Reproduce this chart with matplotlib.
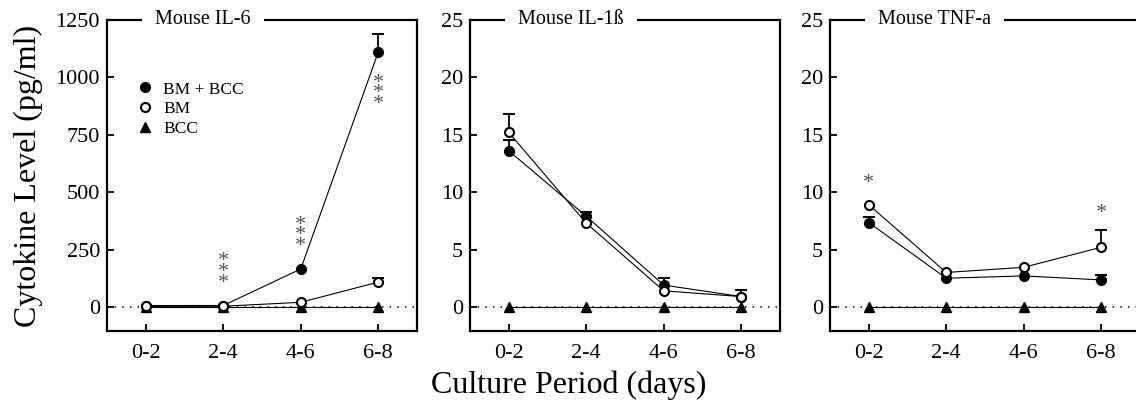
import matplotlib.pyplot as plt
from matplotlib.lines import Line2D

plt.rcParams['font.family'] = ['Liberation Serif', 'DejaVu Serif']

periods = ['0-2', '2-4', '4-6', '6-8']
series = ['BM + BCC', 'BM', 'BCC']

# Mouse IL-6
il6_bmbcc = [6, 6, 165, 1110]
il6_bmbcc_err = [0, 0, 0, 80]
il6_bm = [2, 3, 20, 108]
il6_bm_err = [0, 0, 0, 20]
il6_bcc = [0, 0, 0, 0]
il6_stars = [(1, 150, 3), (2, 310, 3), (3, 928, 3)]  # (period, centre, count)

# Mouse IL-1b
il1_bmbcc = [13.6, 7.9, 1.9, 0.9]
il1_bmbcc_err = [0.9, 0.4, 0.6, 0.6]
il1_bm = [15.2, 7.3, 1.4, 0.9]
il1_bm_err = [1.6, 0, 0, 0]
il1_bcc = [0, 0, 0, 0]
il1_stars = []

# Mouse TNF-a
tnf_bmbcc = [7.35, 2.5, 2.7, 2.35]
tnf_bmbcc_err = [0.5, 0, 0, 0.4]
tnf_bm = [8.9, 3.0, 3.45, 5.2]
tnf_bm_err = [0, 0, 0, 1.5]
tnf_bcc = [0, 0, 0, 0]
tnf_stars = [(0, 10.75, 1), (3, 8.1, 1)]

panels = [
    ('Mouse IL-6', il6_bmbcc, il6_bmbcc_err, il6_bm, il6_bm_err, il6_bcc, il6_stars,
     (-105, 1250), [0, 250, 500, 750, 1000, 1250]),
    ('Mouse IL-1ß', il1_bmbcc, il1_bmbcc_err, il1_bm, il1_bm_err, il1_bcc, il1_stars,
     (-2.1, 25), [0, 5, 10, 15, 20, 25]),
    ('Mouse TNF-a', tnf_bmbcc, tnf_bmbcc_err, tnf_bm, tnf_bm_err, tnf_bcc, tnf_stars,
     (-2.1, 25), [0, 5, 10, 15, 20, 25]),
]

W, H = 1136, 408
fig = plt.figure(figsize=(W / 100, H / 100), dpi=100)
lefts = [107, 470, 830]
x = list(range(len(periods)))


def upper_bars(ax, xs, ys, errs):
    # upward-only error bars with a single cap
    for xi, yi, e in zip(xs, ys, errs):
        if e > 0:
            ax.plot([xi, xi], [yi, yi + e], color='black', lw=1.3, zorder=3.5)
            ax.plot([xi], [yi + e], marker='_', ms=8, mew=1.4, color='black', zorder=3.5)


for left, (title, bb, bbe, bm, bme, bcc, stars, ylim, yticks) in zip(lefts, panels):
    ax = fig.add_axes([left / W, 1 - 331 / H, 310 / W, 311 / H])
    ax.set_xlim(-0.5, 3.5)
    ax.set_ylim(*ylim)

    # zero reference line
    ax.axhline(0, color='black', lw=1.1, ls=(0, (1, 4)), zorder=1)

    ax.plot(x, bcc, color='black', lw=0.8, marker='^', ms=6.5, mfc='black', mec='black', zorder=3)
    upper_bars(ax, x, bb, bbe)
    upper_bars(ax, x, bm, bme)
    ax.plot(x, bb, color='black', lw=0.8, marker='o', ms=7, mfc='black', mec='black', zorder=4)
    ax.plot(x, bm, color='black', lw=0.8, marker='o', ms=6.5, mfc='white', mec='black',
            mew=1.5, zorder=5)

    for xi, yc, n in stars:
        ax.text(xi, yc, '\n'.join(['*'] * n), ha='center', va='center', fontsize=16,
                linespacing=0.4, color='#555555')

    ax.set_xticks(x)
    ax.set_xticklabels(periods)
    ax.set_yticks(yticks)
    ax.tick_params(direction='in', length=5, width=1.3, labelsize=16)
    ax.tick_params(axis='x', pad=9)
    ax.tick_params(axis='y', pad=5)
    for s in ['left', 'bottom', 'right']:
        ax.spines[s].set_linewidth(1.6)
    ax.spines['top'].set_visible(False)

    # top frame line broken by the panel title
    ax.plot([0, 1], [1, 1], color='black', lw=1.6, transform=ax.transAxes, clip_on=False, zorder=6)
    ax.text(0.155, 1.0, title, transform=ax.transAxes, ha='left', va='center', fontsize=14.5,
            zorder=7, bbox=dict(facecolor='white', edgecolor='none', boxstyle='square,pad=0.65'))

    if title == 'Mouse IL-6':
        handles = [
            Line2D([], [], ls='none', marker='o', ms=7, mfc='black', mec='black'),
            Line2D([], [], ls='none', marker='o', ms=6.5, mfc='white', mec='black', mew=1.5),
            Line2D([], [], ls='none', marker='^', ms=6.5, mfc='black', mec='black'),
        ]
        ax.legend(handles, series, loc='upper left', bbox_to_anchor=(0.072, 0.825), frameon=False,
                  fontsize=12.5, handlelength=1.0, handletextpad=0.55, labelspacing=0.22,
                  borderaxespad=0)

fig.text(28 / W, 1 - 176 / H, 'Cytokine Level (pg/ml)', rotation=90, ha='center', va='center',
         fontsize=23)
fig.text(569 / W, 1 - 385 / H, 'Culture Period (days)', ha='center', va='center', fontsize=23)

plt.savefig('out.png', dpi=100)
